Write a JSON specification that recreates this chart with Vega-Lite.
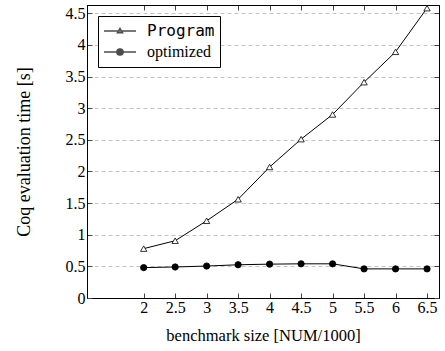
{
  "$schema": "https://vega.github.io/schema/vega-lite/v6.json",
  "width": 352,
  "height": 293,
  "autosize": {"type": "none"},
  "padding": {"left": 87, "top": 5, "right": 6, "bottom": 53},
  "background": "white",
  "config": {
    "view": {"stroke": "black", "strokeWidth": 1},
    "axis": {
      "labelFont": "Times New Roman",
      "labelFontSize": 16,
      "labelColor": "black",
      "titleFont": "Times New Roman",
      "titleFontWeight": "normal",
      "titleColor": "black",
      "domainColor": "black",
      "tickColor": "#444444"
    }
  },
  "data": {
    "values": [
      {"size": 2, "time": 0.78, "series": "Program"},
      {"size": 2.5, "time": 0.905, "series": "Program"},
      {"size": 3, "time": 1.22, "series": "Program"},
      {"size": 3.5, "time": 1.56, "series": "Program"},
      {"size": 4, "time": 2.07, "series": "Program"},
      {"size": 4.5, "time": 2.51, "series": "Program"},
      {"size": 5, "time": 2.9, "series": "Program"},
      {"size": 5.5, "time": 3.41, "series": "Program"},
      {"size": 6, "time": 3.89, "series": "Program"},
      {"size": 6.5, "time": 4.58, "series": "Program"},
      {"size": 2, "time": 0.48, "series": "optimized"},
      {"size": 2.5, "time": 0.49, "series": "optimized"},
      {"size": 3, "time": 0.505, "series": "optimized"},
      {"size": 3.5, "time": 0.525, "series": "optimized"},
      {"size": 4, "time": 0.535, "series": "optimized"},
      {"size": 4.5, "time": 0.54, "series": "optimized"},
      {"size": 5, "time": 0.54, "series": "optimized"},
      {"size": 5.5, "time": 0.46, "series": "optimized"},
      {"size": 6, "time": 0.46, "series": "optimized"},
      {"size": 6.5, "time": 0.46, "series": "optimized"}
    ]
  },
  "resolve": {
    "axis": {"x": "independent", "y": "independent"},
    "scale": {"shape": "independent", "color": "independent"}
  },
  "layer": [
    {
      "mark": {"type": "line", "stroke": "black", "strokeWidth": 1},
      "encoding": {
        "x": {
          "field": "size", "type": "quantitative",
          "scale": {"domain": [1.1, 6.69], "nice": false, "zero": false},
          "axis": {
            "orient": "bottom",
            "title": "benchmark size [NUM/1000]",
            "titleFontSize": 16.5,
            "values": [2, 2.5, 3, 3.5, 4, 4.5, 5, 5.5, 6, 6.5],
            "format": "~g",
            "tickSize": -5,
            "labelPadding": 6,
            "titlePadding": 12,
            "grid": false
          }
        },
        "y": {
          "field": "time", "type": "quantitative",
          "scale": {"domain": [0, 4.63], "nice": false},
          "axis": {
            "orient": "left",
            "title": "Coq evaluation time [s]",
            "titleFontSize": 18,
            "values": [0, 0.5, 1, 1.5, 2, 2.5, 3, 3.5, 4, 4.5],
            "format": "~g",
            "tickSize": -5,
            "labelPadding": 7,
            "titlePadding": 32,
            "grid": true,
            "gridColor": "#c4c4c4",
            "gridDash": [4, 3],
            "gridWidth": 1
          }
        },
        "detail": {"field": "series"}
      }
    },
    {
      "mark": {"type": "point", "filled": true, "stroke": "black", "strokeWidth": 0.8, "size": 40, "opacity": 1},
      "encoding": {
        "x": {
          "field": "size", "type": "quantitative",
          "axis": {
            "orient": "top",
            "title": null,
            "labels": false,
            "values": [2, 2.5, 3, 3.5, 4, 4.5, 5, 5.5, 6, 6.5],
            "tickSize": -5,
            "grid": false
          }
        },
        "y": {
          "field": "time", "type": "quantitative",
          "axis": {
            "orient": "right",
            "title": null,
            "labels": false,
            "values": [0, 0.5, 1, 1.5, 2, 2.5, 3, 3.5, 4, 4.5],
            "tickSize": -5,
            "grid": false
          }
        },
        "shape": {
          "field": "series", "type": "nominal",
          "scale": {"domain": ["Program", "optimized"], "range": ["triangle-up", "circle"]},
          "legend": null
        },
        "fill": {
          "field": "series", "type": "nominal",
          "scale": {"domain": ["Program", "optimized"], "range": ["white", "black"]},
          "legend": null
        }
      }
    },
    {
      "transform": [{"filter": "datum.size > 100"}],
      "mark": {"type": "point", "filled": true, "stroke": "black", "strokeWidth": 1.3},
      "encoding": {
        "x": {"field": "size", "type": "quantitative", "axis": null},
        "y": {"field": "time", "type": "quantitative", "axis": null},
        "shape": {
          "field": "series", "type": "nominal",
          "scale": {
            "domain": ["Program", "optimized"],
            "range": [
              "M-1,0L1,0M0,-0.17L0.17,0.11L-0.17,0.11Z",
              "M-1,0L1,0M0.2,0A0.2,0.2,0,1,1,-0.2,0A0.2,0.2,0,1,1,0.2,0Z"
            ]
          },
          "legend": {
            "title": null,
            "orient": "top-left",
            "offset": 11,
            "padding": 5,
            "strokeColor": "black",
            "fillColor": "white",
            "cornerRadius": 0,
            "symbolSize": 1024,
            "symbolStrokeColor": "black",
            "symbolStrokeWidth": 1.3,
            "clipHeight": 20,
            "rowPadding": 1,
            "labelOffset": 10,
            "labelFont": {"expr": "datum.value === 'Program' ? 'DejaVu Sans Mono' : 'Times New Roman'"},
            "labelFontSize": 16,
            "labelColor": "black"
          }
        },
        "color": {
          "field": "series", "type": "nominal",
          "scale": {"domain": ["Program", "optimized"], "range": ["white", "black"]},
          "legend": {
            "title": null,
            "orient": "top-left",
            "offset": 11,
            "padding": 5,
            "strokeColor": "black",
            "fillColor": "white",
            "cornerRadius": 0,
            "symbolSize": 1024,
            "symbolStrokeColor": "black",
            "symbolStrokeWidth": 1.3,
            "clipHeight": 20,
            "rowPadding": 1,
            "labelOffset": 10,
            "labelFont": {"expr": "datum.value === 'Program' ? 'DejaVu Sans Mono' : 'Times New Roman'"},
            "labelFontSize": 16,
            "labelColor": "black"
          }
        }
      }
    }
  ]
}
